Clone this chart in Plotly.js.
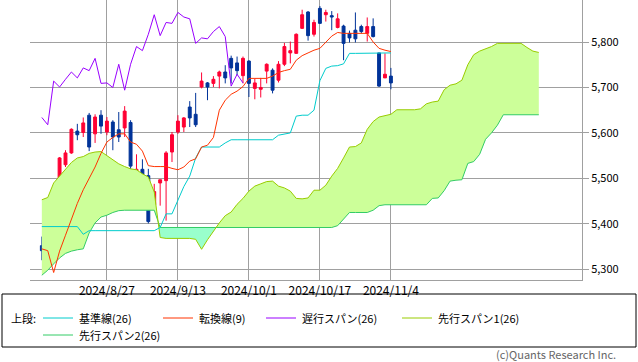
<!DOCTYPE html>
<html>
<head>
<meta charset="utf-8">
<script src="https://cdn.plot.ly/plotly-3.0.1.min.js"></script>
<style>html,body{margin:0;padding:0;background:#fff;}#chart{width:638px;height:362px;}</style>
</head>
<body>
<div id="chart"></div>
<script>
// ---- data ----
const dates = ['2024/8/12','2024/8/13','2024/8/14','2024/8/15','2024/8/16','2024/8/19','2024/8/20','2024/8/21','2024/8/22','2024/8/23',
'2024/8/26','2024/8/27','2024/8/28','2024/8/29','2024/8/30','2024/9/3','2024/9/4','2024/9/5','2024/9/6','2024/9/9',
'2024/9/10','2024/9/11','2024/9/12','2024/9/13','2024/9/16','2024/9/17','2024/9/18','2024/9/19','2024/9/20','2024/9/23',
'2024/9/24','2024/9/25','2024/9/26','2024/9/27','2024/9/30','2024/10/1','2024/10/2','2024/10/3','2024/10/4','2024/10/7',
'2024/10/8','2024/10/9','2024/10/10','2024/10/11','2024/10/14','2024/10/15','2024/10/16','2024/10/17','2024/10/18','2024/10/21',
'2024/10/22','2024/10/23','2024/10/24','2024/10/25','2024/10/28','2024/10/29','2024/10/30','2024/10/31','2024/11/1','2024/11/4'];

const openP  = [5352,5374,5440,5500,5530,5556,5604,5601,5639,5598,5639,5602,5624,5607,5611,5623,5504,5520,5506,5442,
                5490,5495,5558,5602,5613,5657,5641,5701,5710,5709,5725,5734,5764,5754,5726,5758,5698,5696,5736,5738,
                5716,5751,5776,5775,5830,5866,5817,5874,5860,5858,5832,5835,5819,5826,5834,5819,5834,5776,5721,5725];
const highP  = [5372,5437,5463,5547,5562,5610,5620,5634,5644,5641,5650,5635,5628,5646,5659,5628,5553,5542,5521,5488,
                5497,5560,5602,5639,5635,5670,5688,5733,5712,5725,5737,5749,5770,5768,5768,5760,5720,5721,5753,5742,
                5758,5798,5801,5819,5871,5868,5849,5879,5871,5868,5863,5838,5825,5865,5838,5854,5852,5776,5775,5743];
const lowP   = [5320,5372,5414,5498,5525,5554,5584,5591,5560,5578,5598,5595,5562,5580,5591,5503,5503,5479,5401,5431,
                5440,5407,5536,5598,5602,5613,5613,5698,5672,5701,5698,5709,5709,5727,5709,5679,5674,5678,5709,5687,
                5711,5747,5753,5774,5829,5803,5812,5840,5845,5826,5830,5760,5799,5799,5819,5801,5810,5701,5721,5696];
const closeP = [5341,5435,5456,5545,5556,5608,5596,5622,5569,5635,5615,5626,5591,5591,5648,5527,5520,5503,5405,5471,
                5497,5556,5596,5626,5633,5633,5618,5714,5701,5718,5734,5721,5743,5737,5764,5709,5710,5700,5751,5694,
                5751,5790,5781,5817,5860,5814,5843,5841,5865,5855,5851,5797,5809,5807,5823,5834,5812,5703,5729,5710];

// 転換線(9)
const tenkan = [5345,5341,5293,5340,5375,5410,5445,5475,5500,5525,5555,5580,5590,5598,5598,5580,5575,5560,5528,5526,
                5526,5526,5522,5519,5525,5538,5543,5569,5573,5590,5650,5672,5685,5692,5702,5720,5720,5720,5720,5725,
                5733,5737,5740,5760,5770,5776,5782,5786,5800,5813,5821,5819,5819,5819,5819,5819,5800,5786,5782,5779];
// 基準線(26)
const kijun  = [5394,5394,5394,5394,5394,5394,5394,5377,5385,5385,5385,5385,5385,5385,5385,5385,5385,5385,5385,5385,
                5392,5422,5422,5452,5482,5505,5545,5569,5569,5569,5569,5578,5585,5585,5585,5585,5585,5585,5585,5585,
                5595,5598,5600,5637,5639,5639,5650,5715,5742,5747,5748,5752,5775,5775,5775,5775,5775,5775,5775,5776];
// 遅行スパン(26) (plotted from first date)
const chikou = [5634,5618,5714,5701,5718,5734,5721,5743,5737,5764,5709,5710,5700,5751,5694,5751,5790,5781,5817,5860,
                5814,5843,5841,5865,5855,5851,5797,5809,5807,5823,5834,5812,5703,5729,5710];
// 先行スパン1(26) (85 points, from first date to 25 bars ahead)
const span1  = [5453,5458,5490,5505,5520,5535,5545,5548,5555,5558,5559,5550,5540,5532,5526,5521,5519,5510,5503,5470,
                5370,5368,5368,5368,5368,5368,5366,5344,5365,5385,5402,5418,5426,5443,5456,5472,5483,5488,5493,5494,
                5483,5479,5472,5456,5455,5457,5474,5474,5485,5505,5522,5545,5569,5570,5578,5608,5625,5635,5638,5641,
                5651,5651,5651,5651,5653,5664,5668,5670,5695,5705,5708,5716,5750,5772,5780,5785,5790,5797,5797,5797,
                5797,5797,5788,5780,5777];
// 先行スパン2(26)
const span2  = [5287,5298,5312,5325,5335,5340,5343,5345,5380,5402,5415,5419,5425,5429,5430,5430,5430,5430,5430,5430,
                5392,5392,5392,5392,5392,5392,5392,5392,5392,5392,5392,5392,5392,5392,5392,5392,5392,5392,5392,5392,
                5392,5392,5392,5392,5392,5392,5392,5392,5392,5392,5396,5410,5425,5425,5425,5425,5430,5440,5442,5442,
                5442,5442,5442,5442,5442,5442,5456,5457,5473,5494,5496,5497,5533,5537,5553,5586,5600,5617,5640,5640,
                5640,5640,5640,5640,5640];

const tickDates = ['2024/8/27','2024/9/13','2024/10/1','2024/10/17','2024/11/4'];
const yTicks = [5300,5400,5500,5600,5700,5800];

// ---- build ----
const idx = dates.map((d,i)=>i);
const cloudX = span1.map((v,i)=>i);
const chikouX = chikou.map((v,i)=>i);
const tickVals = tickDates.map(d=>dates.indexOf(d));

// insert crossings so the two-colour cloud fill is exact
const X=[],A=[],B=[];
for(let i=0;i<span1.length;i++){
  X.push(cloudX[i]); A.push(span1[i]); B.push(span2[i]);
  if(i<span1.length-1){
    const d0=span1[i]-span2[i], d1=span1[i+1]-span2[i+1];
    if(d0*d1<0){
      const t=d0/(d0-d1);
      const v=span1[i]+t*(span1[i+1]-span1[i]);
      X.push(cloudX[i]+t*(cloudX[i+1]-cloudX[i])); A.push(v); B.push(v);
    }
  }
}
const HI = A.map((a,k)=>Math.max(a,B[k]));

const C = {
  kijun:'#00cccc', tenkan:'#ff3300', chikou:'#9900ff', span1:'#99cc00', span2:'#33cc66',
  cloudUp:'#ccff99', cloudDn:'#99ffcc', up:'#ff0033', down:'#003399', grid:'#a0a0a0'
};
const F = '"Noto Sans CJK JP","Noto Sans",sans-serif';

const traces = [
  {x:X, y:B, mode:'lines', line:{width:0}, hoverinfo:'skip'},
  {x:X, y:HI, mode:'lines', line:{width:0}, fill:'tonexty', fillcolor:C.cloudUp, hoverinfo:'skip'},
  {x:X, y:A, mode:'lines', line:{width:0}, hoverinfo:'skip'},
  {x:X, y:HI, mode:'lines', line:{width:0}, fill:'tonexty', fillcolor:C.cloudDn, hoverinfo:'skip'},
  {x:cloudX, y:span2, mode:'lines', line:{color:C.span2, width:1}},
  {x:cloudX, y:span1, mode:'lines', line:{color:C.span1, width:1}},
  {x:idx, y:kijun, mode:'lines', line:{color:C.kijun, width:1}},
  {x:idx, y:tenkan, mode:'lines', line:{color:C.tenkan, width:1}},
  {x:chikouX, y:chikou, mode:'lines', line:{color:C.chikou, width:1}},
  {type:'candlestick', x:idx, open:openP, high:highP, low:lowP, close:closeP,
   increasing:{line:{color:C.up, width:1}, fillcolor:C.up},
   decreasing:{line:{color:C.down, width:1}, fillcolor:C.down},
   whiskerwidth:0, hoverinfo:'skip'}
];

// legend (drawn manually, pixel -> paper)
const L=30, W=552, T=0, H=280;
const px=v=>(v-L)/W, py=v=>(T+H-v)/H;
const legendItems = [
  {c:C.kijun,  t:'基準線(26)',     x0:43,  y:318},
  {c:C.tenkan, t:'転換線(9)',      x0:163, y:318},
  {c:C.chikou, t:'遅行スパン(26)', x0:266, y:318},
  {c:C.span1,  t:'先行スパン1(26)', x0:402, y:318},
  {c:C.span2,  t:'先行スパン2(26)', x0:43,  y:335}
];
const shapes = [
  {type:'rect', xref:'paper', yref:'paper', x0:px(2), x1:px(636), y0:py(294), y1:py(347), line:{color:'#000', width:1}}
];
const annotations = [
  {xref:'paper', yref:'paper', x:px(9), y:py(318), text:'上段:', showarrow:false, xanchor:'left', yanchor:'middle', font:{family:F, size:11, color:'#000'}},
  {xref:'paper', yref:'paper', x:px(618), y:py(354), text:'(c)Quants Research Inc.', showarrow:false, xanchor:'right', yanchor:'middle', font:{family:F, size:11, color:'#666'}}
];
legendItems.forEach(it=>{
  shapes.push({type:'line', xref:'paper', yref:'paper', x0:px(it.x0), x1:px(it.x0+30), y0:py(it.y), y1:py(it.y), line:{color:it.c, width:1}});
  annotations.push({xref:'paper', yref:'paper', x:px(it.x0+34), y:py(it.y), text:it.t, showarrow:false, xanchor:'left', yanchor:'middle', font:{family:F, size:11, color:'#000'}});
});

const layout = {
  width:638, height:362,
  margin:{l:30, r:56, t:0, b:82},
  paper_bgcolor:'#fff', plot_bgcolor:'#fff',
  showlegend:false,
  xaxis:{range:[-2.0, 91.3], tickvals:tickVals, ticktext:tickDates, showgrid:true, gridcolor:C.grid, gridwidth:1,
         zeroline:false, showline:true, mirror:true, linecolor:C.grid, linewidth:1,
         ticks:'', tickfont:{family:F, size:12, color:'#000'},
         rangeslider:{visible:false}, fixedrange:true},
  yaxis:{side:'right', range:[5276.5, 5892.4], tickvals:yTicks, tickformat:',d', showgrid:true, gridcolor:C.grid, gridwidth:1,
         zeroline:false, showline:true, mirror:false, linecolor:C.grid, linewidth:1,
         ticks:'outside', ticklen:6, tickcolor:C.grid, tickfont:{family:F, size:11, color:'#000'}, fixedrange:true},
  shapes:shapes,
  annotations:annotations
};

Plotly.newPlot('chart', traces, layout, {staticPlot:true, displayModeBar:false});
</script>
</body>
</html>
